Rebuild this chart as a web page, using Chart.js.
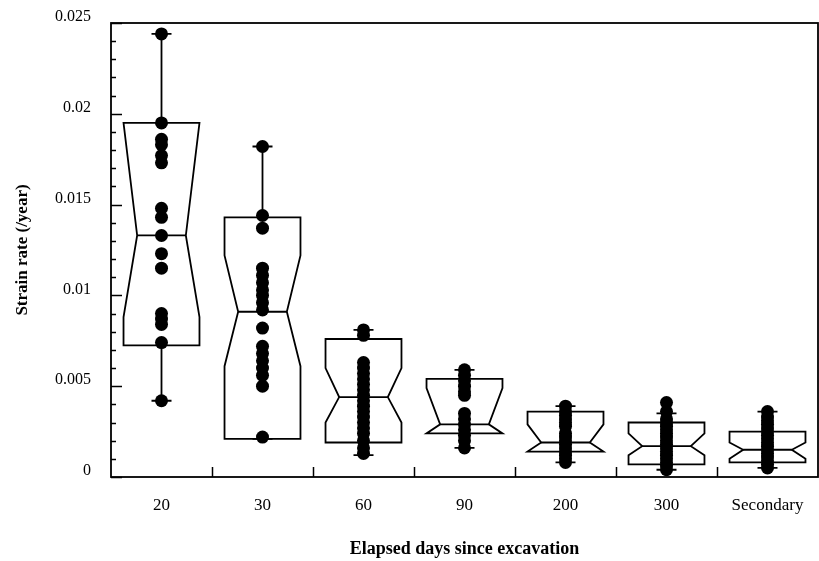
<!DOCTYPE html>
<html>
<head>
<meta charset="utf-8">
<script src="https://cdn.jsdelivr.net/npm/chart.js@4/dist/chart.umd.min.js"></script>
<style>
  html, body { margin: 0; padding: 0; background: #fff; }
  #wrap { width: 819px; height: 561px; }
</style>
</head>
<body>
<div id="wrap"><canvas id="strainChart" width="819" height="561"></canvas></div>
<script>
// elapsed-day groups
const categories = ['20', '30', '60', '90', '200', '300', 'Secondary'];

// box statistics per group
const q1         = [0.00725, 0.0021, 0.0019, 0.0024, 0.0014, 0.0007, 0.0008];
const medians    = [0.0133,  0.0091, 0.0044, 0.0029, 0.0019, 0.0017, 0.0015];
const q3         = [0.0195,  0.0143, 0.0076, 0.0054, 0.0036, 0.0030, 0.0025];
const notchLow   = [0.0088,  0.0061, 0.0030, 0.0024, 0.0014, 0.0012, 0.0010];
const notchHigh  = [0.0195,  0.0122, 0.0060, 0.0049, 0.0029, 0.0024, 0.0019];
const whiskerLow = [0.0042,  0.0021, 0.0012, 0.0016, 0.0008, 0.0004, 0.0005];
const whiskerHigh= [0.0244,  0.0182, 0.0081, 0.0059, 0.0039, 0.0035, 0.0036];

// measured strain rates (/year)
const rates20  = [0.0244, 0.0195, 0.0186, 0.0183, 0.0177, 0.0173, 0.0148, 0.0143, 0.0133,
                  0.0123, 0.0115, 0.0090, 0.0087, 0.0084, 0.0074, 0.0042];
const rates30  = [0.0182, 0.0144, 0.0137, 0.0115, 0.0111, 0.0107, 0.0103, 0.0100, 0.0096,
                  0.0092, 0.0082, 0.0072, 0.0068, 0.0064, 0.0060, 0.0056, 0.0050, 0.0022];
const rates60  = [0.0081, 0.0078, 0.0063, 0.0060, 0.0057, 0.0054, 0.0051, 0.0048, 0.0045, 0.0042,
                  0.0039, 0.0036, 0.0033, 0.0030, 0.0027, 0.0024, 0.0020, 0.0016, 0.0013];
const rates90  = [0.0059, 0.0056, 0.0053, 0.0050, 0.0047, 0.0045, 0.0035, 0.0032, 0.0029,
                  0.0026, 0.0023, 0.0020, 0.0016];
const rates200 = [0.0039, 0.0036, 0.0034, 0.0032, 0.0030, 0.0028, 0.0024, 0.0022, 0.0020,
                  0.0018, 0.0016, 0.0014, 0.0012, 0.0010, 0.0008];
const rates300 = [0.0041, 0.0036, 0.0032, 0.0030, 0.0028, 0.0026, 0.0024, 0.0022, 0.0020,
                  0.0018, 0.0016, 0.0014, 0.0012, 0.0010, 0.0008, 0.0006, 0.0004];
const ratesSec = [0.0036, 0.0033, 0.0031, 0.0029, 0.0027, 0.0025, 0.0023, 0.0021, 0.0019,
                  0.0017, 0.0015, 0.0013, 0.0011, 0.0009, 0.0007, 0.0005];

const yMin = 0, yMax = 0.025, yStep = 0.005, yMinorStep = 0.001;

const samples = [rates20, rates30, rates60, rates90, rates200, rates300, ratesSec];
const points = [];
samples.forEach((vals, i) => {
  vals.forEach(v => points.push({ x: categories[i], y: v }));
});

const serif = '"Liberation Serif", "Times New Roman", "DejaVu Serif", serif';

// notched boxes, whiskers, frame and inward ticks
const boxPlotPlugin = {
  id: 'notchedBoxes',
  beforeDatasetsDraw(chart) {
    const { ctx, scales: { x, y } } = chart;
    const band = x.getPixelForValue(1) - x.getPixelForValue(0);
    const half = band * 0.376;
    const inset = band * 0.135;
    const capHalf = 10;

    ctx.save();
    ctx.strokeStyle = '#000';
    ctx.lineWidth = 1.8;
    ctx.lineJoin = 'miter';

    categories.forEach((c, i) => {
      const cx = x.getPixelForValue(i);
      const L = cx - half, R = cx + half;
      const yQ1 = y.getPixelForValue(q1[i]);
      const yQ3 = y.getPixelForValue(q3[i]);
      const yMed = y.getPixelForValue(medians[i]);
      const yNLo = y.getPixelForValue(Math.max(notchLow[i], q1[i]));
      const yNHi = y.getPixelForValue(Math.min(notchHigh[i], q3[i]));
      const yWLo = y.getPixelForValue(whiskerLow[i]);
      const yWHi = y.getPixelForValue(whiskerHigh[i]);

      // whiskers + caps
      ctx.beginPath();
      ctx.moveTo(cx, yQ3); ctx.lineTo(cx, yWHi);
      ctx.moveTo(cx, yQ1); ctx.lineTo(cx, yWLo);
      ctx.moveTo(cx - capHalf, yWHi); ctx.lineTo(cx + capHalf, yWHi);
      ctx.moveTo(cx - capHalf, yWLo); ctx.lineTo(cx + capHalf, yWLo);
      ctx.stroke();

      // notched outline
      ctx.beginPath();
      ctx.moveTo(L, yQ3);
      ctx.lineTo(R, yQ3);
      ctx.lineTo(R, yNHi);
      ctx.lineTo(R - inset, yMed);
      ctx.lineTo(R, yNLo);
      ctx.lineTo(R, yQ1);
      ctx.lineTo(L, yQ1);
      ctx.lineTo(L, yNLo);
      ctx.lineTo(L + inset, yMed);
      ctx.lineTo(L, yNHi);
      ctx.closePath();
      ctx.stroke();

      // median
      ctx.beginPath();
      ctx.moveTo(L + inset, yMed);
      ctx.lineTo(R - inset, yMed);
      ctx.stroke();
    });
    ctx.restore();
  },
  afterDraw(chart) {
    const { ctx, chartArea: a, scales: { x, y } } = chart;
    ctx.save();
    ctx.strokeStyle = '#000';
    ctx.lineWidth = 1.8;
    ctx.strokeRect(a.left, a.top, a.right - a.left, a.bottom - a.top);

    ctx.lineWidth = 1.5;
    ctx.beginPath();
    // y ticks pointing into the plot
    for (let k = 0; k <= Math.round((yMax - yMin) / yMinorStep); k++) {
      const v = yMin + k * yMinorStep;
      const py = Math.round(y.getPixelForValue(v)) + 0.5;
      const major = k % Math.round(yStep / yMinorStep) === 0;
      ctx.moveTo(a.left, py);
      ctx.lineTo(a.left + (major ? 11 : 5), py);
    }
    // x ticks between groups
    for (let i = 1; i < categories.length; i++) {
      const px = Math.round((x.getPixelForValue(i - 1) + x.getPixelForValue(i)) / 2) + 0.5;
      ctx.moveTo(px, a.bottom);
      ctx.lineTo(px, a.bottom - 10);
    }
    ctx.stroke();
    ctx.restore();
  }
};

new Chart(document.getElementById('strainChart'), {
  type: 'scatter',
  data: {
    labels: categories,
    datasets: [{
      data: points,
      backgroundColor: '#000',
      borderWidth: 0,
      pointRadius: 6.5,
      pointHoverRadius: 6.5
    }]
  },
  options: {
    responsive: false,
    animation: false,
    events: [],
    layout: { autoPadding: false, padding: { top: 23, right: 1, left: 0, bottom: 0 } },
    plugins: {
      legend: { display: false },
      tooltip: { enabled: false }
    },
    scales: {
      x: {
        type: 'category',
        labels: categories,
        offset: true,
        grid: { display: false, drawTicks: false },
        border: { display: false },
        ticks: {
          color: '#000',
          padding: 18,
          font: { family: serif, size: 17 }
        },
        title: {
          display: true,
          text: 'Elapsed days since excavation',
          color: '#000',
          padding: { top: 0, bottom: 1 },
          font: { family: serif, size: 18, weight: 'bold' }
        },
        afterFit(scale) {
          scale.height = 84;
          scale.paddingLeft = 0;
          scale.paddingRight = 0;
        }
      },
      y: {
        min: yMin,
        max: yMax,
        grid: { display: false, drawTicks: false },
        border: { display: false },
        ticks: {
          stepSize: yStep,
          color: '#000',
          padding: 20,
          labelOffset: -6,
          font: { family: serif, size: 16 },
          callback: v => String(+v.toFixed(3))
        },
        title: {
          display: true,
          text: 'Strain rate (/year)',
          color: '#000',
          padding: { top: 12, bottom: 0 },
          font: { family: serif, size: 17, weight: 'bold' }
        },
        afterFit(scale) {
          scale.width = 111;
          scale.paddingTop = 0;
          scale.paddingBottom = 0;
        }
      }
    }
  },
  plugins: [boxPlotPlugin]
});
</script>
</body>
</html>
